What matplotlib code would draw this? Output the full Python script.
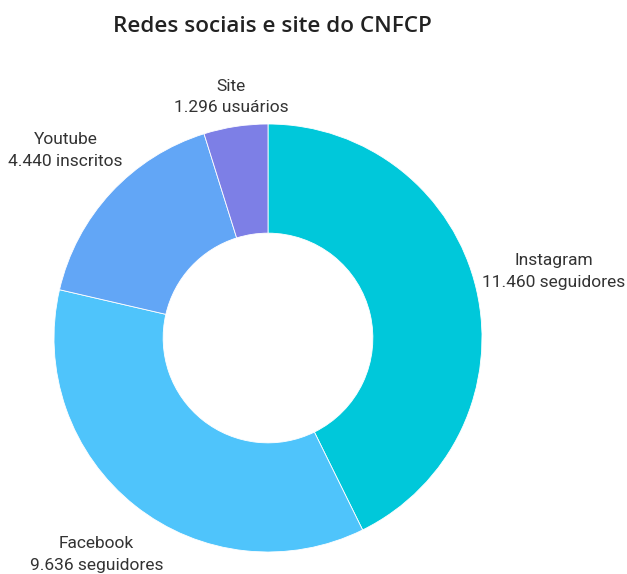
import numpy as np
import matplotlib.pyplot as plt

# redes sociais do CNFCP
names = ['Instagram', 'Facebook', 'Youtube', 'Site']
values = [11460, 9636, 4440, 1296]
value_labels = ['11.460 seguidores', '9.636 seguidores', '4.440 inscritos', '1.296 usuários']
colors = ['#00C8DA', '#4FC4FB', '#62A6F6', '#7D7FE6']

fig = plt.figure(figsize=(6.27, 5.74), dpi=100)
ax = fig.add_axes([0, 0, 1, 1])

cx, cy, r = 268, 236, 214
wedges, _ = ax.pie(values, colors=colors, startangle=90, counterclock=False,
                   center=(cx, cy), radius=r, frame=True,
                   wedgeprops=dict(width=r * 0.51, edgecolor='white', linewidth=0.6))
ax.set_xlim(0, 627)
ax.set_ylim(0, 574)
ax.set_aspect('equal')
ax.axis('off')

# label distance per slice (in radii)
dist = [1.37, 1.29, 1.29, 1.14]
for w, name, lab, d in zip(wedges, names, value_labels, dist):
    ang = np.deg2rad((w.theta1 + w.theta2) / 2)
    x = cx + d * r * np.cos(ang)
    y = cy + d * r * np.sin(ang)
    ax.text(x, y, name + '\n' + lab, ha='center', va='center', fontsize=12.5,
            family='Roboto', color='#333333', linespacing=1.55)

fig.text(272 / 627, 1 - 27 / 574, 'Redes sociais e site do CNFCP', ha='center', va='center',
         fontsize=16.2, family='Open Sans', fontweight='semibold', color='#222222')

fig.savefig('out.png', dpi=100)
